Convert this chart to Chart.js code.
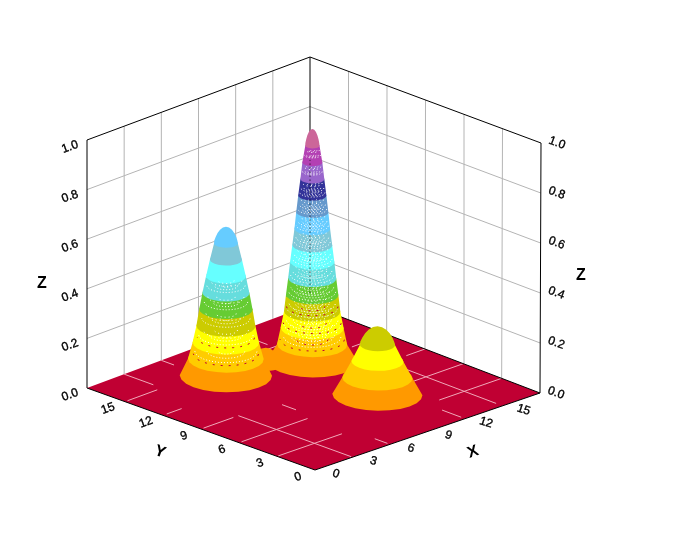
<!DOCTYPE html>
<html>
<head>
<meta charset="utf-8">
<style>
html, body { margin: 0; padding: 0; background: #fff; }
canvas { display: block; }
</style>
<script src="https://cdn.jsdelivr.net/npm/chart.js@4"></script>
</head>
<body>
<canvas id="graph" width="700" height="550"></canvas>
<script>
// axis ticks
const xTicks = [0, 3, 6, 9, 12, 15];
const yTicks = [0, 3, 6, 9, 12, 15];
const zTicks = [0, 0.2, 0.4, 0.6, 0.8, 1];
const axisMax = 18;

// contour levels and their colours, bottom to top
const zLevels = [0, 0.067, 0.133, 0.2, 0.267, 0.333, 0.4, 0.467, 0.533, 0.6, 0.667, 0.733, 0.8, 0.867];
const bandColors = ['#ff9900', '#ffcc00', '#ffff00', '#cccc00', '#66cc33', '#66dddd', '#66ffff',
  '#80c8d8', '#66ccff', '#6699cc', '#333399', '#9966cc', '#b340b3', '#cc6699'];

// the peaks: centre, top and radius at each contour level
const tallCenter = [12.05, 12.05];
const tallTop = 0.935;
const tallRadii = [2.55, 1.97, 1.77, 1.58, 1.47, 1.35, 1.24, 1.12, 1.0, 0.9, 0.79, 0.67, 0.56, 0.4];
const leftCenter = [6.95, 13.85];
const leftTop = 0.6;
const leftRadii = [2.6, 2.13, 1.87, 1.66, 1.5, 1.32, 1.12, 0.9, 0.67];
const rightCenter = [11.05, 5.95];
const rightTop = 0.275;
const rightRadii = [2.53, 1.97, 1.46, 0.98];
// low saddle joining the left and the tall peak
const saddleCenter = [9.7, 13.4];
const saddleTop = 0.07;
const saddleRadii = [0.9];

// pieces of floor grid that stay visible: [fixed value, from, to]
const floorAlongX = [[15, 0.2, 2.6], [12, 0.3, 1.5], [9, 0.2, 2.6], [6, 0.2, 5.5], [3, 0.1, 5.2],
  [15, 11.4, 12.6], [9, 16.5, 18], [6, 14, 18], [3, 13, 18], [12, 15.2, 16]];
const floorAlongY = [[3, 15.7, 18], [6, 17, 18], [3, 0.1, 9], [6, 7.4, 8.5], [6, 0.2, 1.2],
  [12, 0.3, 1.8], [15, 0.5, 8], [12, 15.5, 16.6]];

// box corners on the page: floor and top, [x=0,y=0] [x=18,y=0] [x=18,y=18] [x=0,y=18]
const floorCorners = [[315, 470], [540, 393], [310, 305], [87, 388]];
const topCorners = [[316, 225], [541, 143], [310, 57], [87, 140]];

function bilinear(c, u, v) {
  const a = [c[0][0] + (c[1][0] - c[0][0]) * u, c[0][1] + (c[1][1] - c[0][1]) * u];
  const b = [c[3][0] + (c[2][0] - c[3][0]) * u, c[3][1] + (c[2][1] - c[3][1]) * u];
  return [a[0] + (b[0] - a[0]) * v, a[1] + (b[1] - a[1]) * v];
}
function project(x, y, z) {
  const f = bilinear(floorCorners, x / axisMax, y / axisMax);
  const t = bilinear(topCorners, x / axisMax, y / axisMax);
  return { x: f[0] + (t[0] - f[0]) * z, y: f[1] + (t[1] - f[1]) * z };
}

const datasets = [];
function addLine(points, color, width, dash) {
  datasets.push({ data: points, showLine: true, pointRadius: 0, borderColor: color,
    borderWidth: width || 1, borderDash: dash || [], fill: false, tension: 0 });
}
function addShape(points, color) {
  datasets.push({ data: points, showLine: true, pointRadius: 0, borderWidth: 0,
    borderColor: color, backgroundColor: color, fill: 'shape', tension: 0 });
}
function edge(a, b, color, width, dash) {
  addLine([project(a[0], a[1], a[2]), project(b[0], b[1], b[2])], color, width, dash);
}

// walls
const wallGray = '#b4b4b4';
[3, 6, 9, 12, 15].forEach(v => {
  edge([v, axisMax, 0], [v, axisMax, 1], wallGray);
  edge([axisMax, v, 0], [axisMax, v, 1], wallGray);
});
[0.2, 0.4, 0.6, 0.8].forEach(z => {
  edge([0, axisMax, z], [axisMax, axisMax, z], wallGray);
  edge([axisMax, axisMax, z], [axisMax, 0, z], wallGray);
});
edge([0, axisMax, 1], [axisMax, axisMax, 1], '#000');
edge([axisMax, axisMax, 1], [axisMax, 0, 1], '#000');
edge([0, axisMax, 0], [0, axisMax, 1], '#000');
edge([axisMax, 0, 0], [axisMax, 0, 1], '#000');
edge([axisMax, axisMax, 0], [axisMax, axisMax, 1], '#000');

// floor
addShape([project(0, 0, 0), project(axisMax, 0, 0), project(axisMax, axisMax, 0), project(0, axisMax, 0), project(0, 0, 0)], '#c00033');
floorAlongX.forEach(s => edge([s[1], s[0], 0], [s[2], s[0], 0], '#f0a8b8'));
floorAlongY.forEach(s => edge([s[0], s[1], 0], [s[0], s[2], 0], '#f0a8b8'));
edge([0, 0, 0], [axisMax, 0, 0], '#000');
edge([0, 0, 0], [0, axisMax, 0], '#000');
edge([axisMax, 0, 0], [axisMax, axisMax, 0], '#000');

const arcStep = 15;
function ringArc(c, r, z, from, to) {
  const pts = [];
  for (let a = from; a >= to; a -= arcStep) {
    const t = a * Math.PI / 180;
    pts.push(project(c[0] + r * Math.cos(t), c[1] + r * Math.sin(t), z));
  }
  return pts;
}
function addPeak(c, radii, top) {
  radii.forEach((r, k) => {
    const pts = ringArc(c, r, zLevels[k], -45, -225);
    if (k < radii.length - 1) {
      pts.push(...ringArc(c, radii[k + 1], zLevels[k + 1], -225, -405));
    } else {
      for (let a = 180; a >= 0; a -= arcStep) {
        const t = a * Math.PI / 180, d = r * Math.cos(t) * Math.SQRT1_2;
        pts.push(project(c[0] + d, c[1] - d, zLevels[k] + (top - zLevels[k]) * Math.pow(Math.sin(t), 1.4)));
      }
    }
    pts.push(pts[0]);
    addShape(pts, bandColors[k]);
  });
}
// dotted mesh showing through the surface, front half of each ring only
function addMesh(c, radii, firstBand, lastBand, color, factors, offset, dash) {
  for (let k = firstBand; k <= lastBand; k++) {
    factors.forEach(f => {
      addLine(ringArc(c, radii[k] * f, zLevels[k] + offset, -45, -225), color, 1, dash);
    });
  }
}

addPeak(tallCenter, tallRadii, tallTop);
addMesh(tallCenter, tallRadii, 1, 12, '#ffffff', [0.82, 0.6, 0.38, 0.16], 0.03, [1, 2]);
addMesh(tallCenter, tallRadii, 1, 12, '#ffffff', [0.7, 0.48, 0.26], 0.05, [1, 3]);
addMesh(tallCenter, tallRadii, 2, 10, '#ffffff', [0.9, 0.65, 0.42, 0.2], 0.012, [1, 2]);
addMesh(tallCenter, tallRadii, 1, 3, '#c00033', [0.92, 0.45], 0.02, [2, 6]);
edge([axisMax, axisMax, 0.05], [axisMax, axisMax, 0.585], '#000', 1, [1, 3]);
addPeak(saddleCenter, saddleRadii, saddleTop);
addPeak(leftCenter, leftRadii, leftTop);
addMesh(leftCenter, leftRadii, 1, 5, '#ffffff', [0.82, 0.5, 0.2], 0.03, [1, 2]);
addMesh(leftCenter, leftRadii, 2, 5, '#ffffff', [0.68, 0.35], 0.05, [1, 3]);
addMesh(leftCenter, leftRadii, 1, 2, '#c00033', [0.86], 0.02, [2, 6]);
addPeak(rightCenter, rightRadii, rightTop);

// chart.js draws the lowest order last, keep push order as paint order
datasets.forEach((d, i) => { d.order = datasets.length - i; });

// tick labels and axis titles
const labelsPlugin = {
  id: 'labels3d',
  afterDraw(chart) {
    const ctx = chart.ctx, sx = chart.scales.x, sy = chart.scales.y;
    function put(text, p, dx, dy, angle, font, weight) {
      ctx.save();
      ctx.translate(sx.getPixelForValue(p.x) + dx, sy.getPixelForValue(p.y) + dy);
      ctx.rotate(angle * Math.PI / 180);
      ctx.font = font;
      ctx.fillStyle = '#000';
      ctx.strokeStyle = '#000';
      ctx.lineWidth = weight || 0;
      ctx.textAlign = 'center';
      ctx.textBaseline = 'middle';
      ctx.fillText(text, 0, 0);
      if (weight) ctx.strokeText(text, 0, 0);
      ctx.restore();
    }
    const tickFont = '12px "Liberation Sans"';
    const titleFont = 'bold 16px "Liberation Sans"';
    zTicks.forEach(z => {
      put(z.toFixed(1), project(0, axisMax, z), -17, 7, -20, tickFont, 0.35);
      put(z.toFixed(1), project(axisMax, 0, z), 16, 0, 20, tickFont, 0.35);
    });
    yTicks.forEach(v => put(String(v), project(0, v, 0), -17, 7, -20, tickFont, 0.35));
    xTicks.forEach(v => put(String(v), project(v, 0, 0), 21, 4, 18, tickFont, 0.35));
    put('Z', { x: 42, y: 284 }, 0, 0, 0, titleFont);
    put('Z', { x: 581, y: 276 }, 0, 0, 0, titleFont);
    put('Y', { x: 160, y: 452 }, 0, 0, 20, titleFont);
    put('X', { x: 473, y: 452 }, 0, 0, -20, titleFont);
  }
};

new Chart('graph', {
  type: 'scatter',
  data: { datasets: datasets },
  plugins: [labelsPlugin],
  options: {
    responsive: false,
    animation: false,
    layout: { padding: 0 },
    plugins: { legend: { display: false }, tooltip: { enabled: false }, title: { display: false } },
    scales: {
      x: { type: 'linear', display: false, min: 0, max: 700 },
      y: { type: 'linear', display: false, min: 0, max: 550, reverse: true }
    }
  }
});
</script>
</body>
</html>
